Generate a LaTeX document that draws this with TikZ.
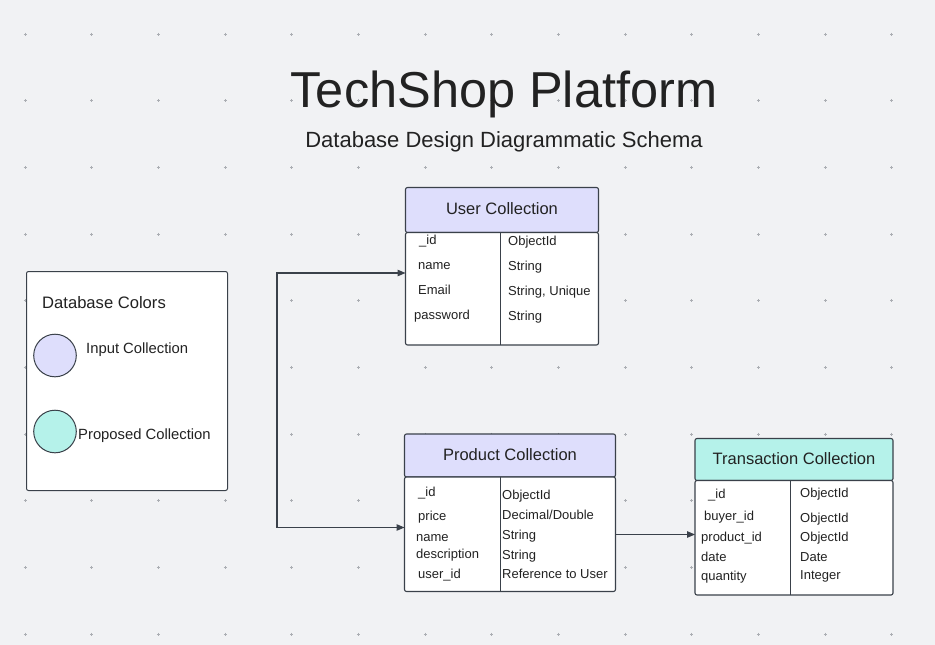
\documentclass[tikz,border=0pt]{standalone}
\usepackage{fontspec}
\setmainfont{Liberation Sans}
\usetikzlibrary{arrows.meta}
\definecolor{bg}{HTML}{F1F2F4}
\definecolor{edge}{HTML}{3A414A}
\definecolor{inputc}{HTML}{DEDEFC}
\definecolor{propc}{HTML}{B5F2EA}
\definecolor{gridc}{HTML}{ABAEB3}
\definecolor{txt}{HTML}{222222}
\begin{document}
\begin{tikzpicture}[x=1pt,y=-1pt,
  hdr/.style={draw=edge, line width=1.1pt, rounded corners=2pt, anchor=north west, inner sep=0pt, outer sep=0pt, font=\fontsize{16.5}{20}\selectfont, text=txt},
  bodybox/.style={draw=edge, line width=1.1pt, rounded corners=2pt, fill=white, anchor=north west, inner sep=0pt, outer sep=0pt},
  fld/.style={anchor=base west, inner sep=0pt, font=\fontsize{13}{15}\selectfont, text=txt},
  divider/.style={draw=edge, line width=1.1pt},
  conn/.style={draw=edge, line width=1.1pt},
  tipend/.style={-{Triangle[length=8pt,width=6.5pt]}},
  legtext/.style={anchor=base west, inner sep=0pt, text=txt}
]
\fill[bg] (0,0) rectangle (935,645);
\useasboundingbox (0,0) rectangle (935,645);

% dot grid
\foreach \i in {0,...,13}{
  \foreach \j in {0,...,9}{
    \draw[gridc, line width=0.5pt] ({25+66.67*\i-1.5},{34+66.67*\j}) -- ++(3,0)
      ({25+66.67*\i},{34+66.67*\j-1.5}) -- ++(0,3);
  }
}

% titles
\node[anchor=base, inner sep=0pt, font=\fontsize{50.5}{60}\selectfont, text=txt] (title) at (504,107) {TechShop Platform};
\node[anchor=base, inner sep=0pt, font=\fontsize{22}{26}\selectfont, text=txt] (subtitle) at (504,147) {Database Design Diagrammatic Schema};

% legend
\node[draw=edge, line width=1pt, rounded corners=2pt, fill=white, anchor=north west, minimum width=201pt, minimum height=219pt, inner sep=0pt] (legend) at (26,271) {};
\node[legtext, font=\fontsize{16.6}{20}\selectfont] (legtitle) at (42,308) {Database Colors};
\node[circle, draw=edge, line width=1pt, fill=inputc, minimum size=42.6pt, inner sep=0pt] (cin) at (55,355.5) {};
\node[legtext, font=\fontsize{14.8}{18}\selectfont] (lin) at (86,353.5) {Input Collection};
\node[circle, draw=edge, line width=1pt, fill=propc, minimum size=42.6pt, inner sep=0pt] (cprop) at (55,431.5) {};
\node[legtext, font=\fontsize{14.8}{18}\selectfont] (lprop) at (78,439.5) {Proposed Collection};

% User collection
\node[hdr, fill=inputc, minimum width=193pt, minimum height=45pt] (uh) at (405.5,187.5) {\raisebox{2pt}{User Collection}};
\node[bodybox, minimum width=193pt, minimum height=112.5pt] (ub) at (405.5,232.5) {};
\draw[divider] (500.5,232.5) -- (500.5,345);
\node[fld] (u1) at (419,244) {\_id};
\node[fld] (u2) at (418,269.5) {name};
\node[fld] (u3) at (418,294.5) {Email};
\node[fld] (u4) at (414,319.5) {password};
\node[fld] (u1t) at (508,245.5) {ObjectId};
\node[fld] (u2t) at (508,270.5) {String};
\node[fld] (u3t) at (508,295.5) {String, Unique};
\node[fld] (u4t) at (508,320.5) {String};

% Product collection
\node[hdr, fill=inputc, minimum width=211pt, minimum height=43pt] (ph) at (404.5,434) {\raisebox{2pt}{Product Collection}};
\node[bodybox, minimum width=211pt, minimum height=114.5pt] (pb) at (404.5,477) {};
\draw[divider] (500.5,477) -- (500.5,591.5);
\node[fld] (p1) at (418,496.5) {\_id};
\node[fld] (p2) at (418,520.5) {price};
\node[fld] (p3) at (416,541) {name};
\node[fld] (p4) at (416,558.5) {description};
\node[fld] (p5) at (418,578.5) {user\_id};
\node[fld] (p1t) at (502,499.5) {ObjectId};
\node[fld] (p2t) at (502,519.5) {Decimal/Double};
\node[fld] (p3t) at (502,539) {String};
\node[fld] (p4t) at (502,559) {String};
\node[fld] (p5t) at (502,578.5) {Reference to User};

% Transaction collection
\node[hdr, fill=propc, minimum width=198pt, minimum height=42pt] (th) at (695,438.5) {\raisebox{2pt}{Transaction Collection}};
\node[bodybox, minimum width=198pt, minimum height=114.5pt] (tb) at (695,480.5) {};
\draw[divider] (790.5,480.5) -- (790.5,595);
\node[fld] (t1) at (708,498) {\_id};
\node[fld] (t2) at (704,520) {buyer\_id};
\node[fld] (t3) at (701,541.3) {product\_id};
\node[fld] (t4) at (701,561) {date};
\node[fld] (t5) at (701,580.7) {quantity};
\node[fld] (t1t) at (800,497.4) {ObjectId};
\node[fld] (t2t) at (800,522) {ObjectId};
\node[fld] (t3t) at (800,541.3) {ObjectId};
\node[fld] (t4t) at (800,561) {Date};
\node[fld] (t5t) at (800,579) {Integer};

% connectors
\coordinate (ua) at (277,273);
\coordinate (pa) at (277,527.5);
\draw[conn, {Triangle[length=8pt,width=6.5pt]}-{Triangle[length=8pt,width=6.5pt]}]
  (ua -| ub.west) -- (ua) -- (pa) -- (pa -| pb.west);
\coordinate (tr) at (0,534.5);
\draw[conn, tipend] (tr -| pb.east) -- (tr -| tb.west);
\end{tikzpicture}
\end{document}
